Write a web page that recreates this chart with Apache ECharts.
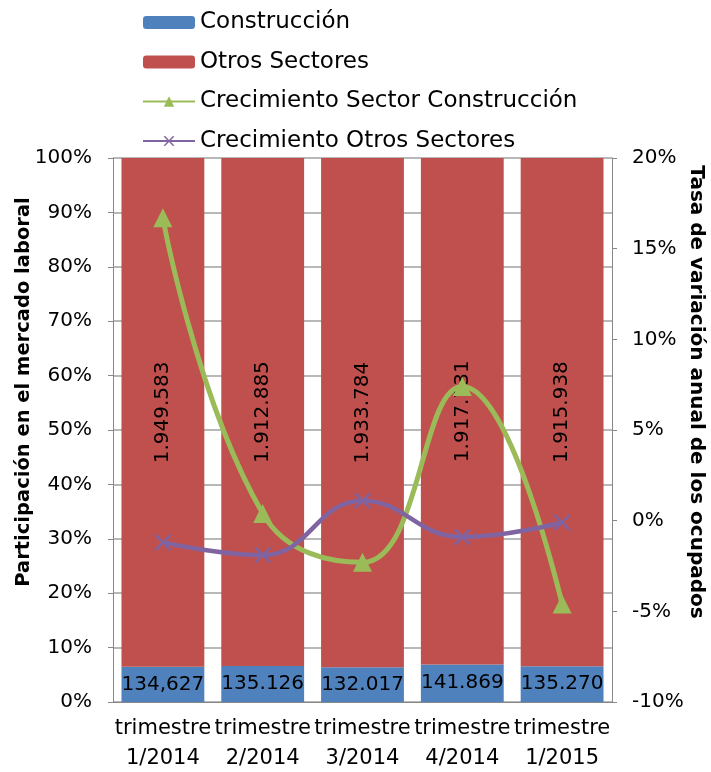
<!DOCTYPE html>
<html><head><meta charset="utf-8">
<script src="https://cdn.jsdelivr.net/npm/echarts@6/dist/echarts.min.js"></script>
<style>html,body{margin:0;padding:0;background:#fff}#c{width:711px;height:772px}</style>
</head><body><div id="c"></div>
<script>
const categories = ['trimestre\n1/2014','trimestre\n2/2014','trimestre\n3/2014','trimestre\n4/2014','trimestre\n1/2015'];
const construccion = [134627, 135126, 132017, 141869, 135270];
const construccionLabels = ['134,627','135.126','132.017','141.869','135.270'];
const otros = [1949583, 1912885, 1933784, 1917731, 1915938];
const otrosLabels = ['1.949.583','1.912.885','1.933.784','1.917.731','1.915.938'];
const crecConstruccion = [16.7, 0.4, -2.3, 7.4, -4.6];
const crecOtros = [-1.2, -1.9, 1.1, -0.9, -0.1];
const leftTicks = [0,10,20,30,40,50,60,70,80,90,100];
const rightTicks = [-10,-5,0,5,10,15,20];
const leftTitle = 'Participación en el mercado laboral';
const rightTitle = 'Tasa de variación anual de los ocupados';

const FONT = 'DejaVu Sans';
const totals = construccion.map((v,i)=>v+otros[i]);
const shareC = construccion.map((v,i)=>v/totals[i]*100);
const shareO = otros.map((v,i)=>v/totals[i]*100);
const cross = 'path://M1,0 L5,4 L9,0 L10,1 L6,5 L10,9 L9,10 L5,6 L1,10 L0,9 L4,5 L0,1 Z';

const chart = echarts.init(document.getElementById('c'));
chart.setOption({
  animation:false,
  textStyle:{fontFamily:FONT},
  legend:{
    orient:'vertical', left:137, top:6, itemWidth:52, itemHeight:13, itemGap:16.5,
    textStyle:{fontFamily:FONT,fontSize:23,color:'#000'},
    data:['Construcción','Otros Sectores','Crecimiento Sector Construcción','Crecimiento Otros Sectores']
  },
  graphic:[
    {type:'text', x:24, y:392, rotation:Math.PI/2,
     style:{text:leftTitle, font:'bold 19.5px "DejaVu Sans"', fill:'#000', align:'center', verticalAlign:'middle'}},
    {type:'text', x:696, y:392, rotation:-Math.PI/2,
     style:{text:rightTitle, font:'bold 20px "DejaVu Sans"', fill:'#000', align:'center', verticalAlign:'middle'}}
  ],
  grid:{left:113,right:99,top:158,bottom:70,outerBoundsMode:'none',containLabel:false},
  xAxis:{
    type:'category', data:categories,
    axisLine:{lineStyle:{color:'#888'}}, axisTick:{show:false},
    axisLabel:{fontFamily:FONT,fontSize:21,color:'#000',lineHeight:30,interval:0,margin:12}
  },
  yAxis:[{
    type:'value', min:leftTicks[0], max:leftTicks[leftTicks.length-1], interval:10,
    axisLine:{show:true,lineStyle:{color:'#888'}}, axisTick:{show:true,length:5,lineStyle:{color:'#888'}},
    axisLabel:{fontFamily:FONT,fontSize:20,color:'#000',formatter:'{value}%',margin:21},
    splitLine:{lineStyle:{color:'#a0a0a0',width:1.5}}
  },{
    type:'value', min:rightTicks[0], max:rightTicks[rightTicks.length-1], interval:5, position:'right',
    axisLine:{show:true,lineStyle:{color:'#888'}}, axisTick:{show:true,length:5,lineStyle:{color:'#888'}},
    axisLabel:{fontFamily:FONT,fontSize:20,color:'#000',formatter:'{value}%',margin:20},
    splitLine:{show:false}
  }],
  series:[
    {name:'Construcción', type:'bar', stack:'s', data:shareC, barCategoryGap:'17%',
     itemStyle:{color:'#4F81BD'},
     label:{show:true,position:'inside',fontFamily:FONT,fontSize:20,color:'#000',
       formatter:p=>construccionLabels[p.dataIndex]}},
    {name:'Otros Sectores', type:'bar', stack:'s', data:shareO,
     itemStyle:{color:'#C0504D'},
     label:{show:true,position:'inside',rotate:90,fontFamily:FONT,fontSize:20,color:'#000',
       formatter:p=>otrosLabels[p.dataIndex]}},
    {name:'Crecimiento Sector Construcción', type:'line', yAxisIndex:1, data:crecConstruccion,
     smooth:0.45, symbol:'triangle', symbolSize:19,
     lineStyle:{color:'#9BBB59',width:5}, itemStyle:{color:'#9BBB59'}},
    {name:'Crecimiento Otros Sectores', type:'line', yAxisIndex:1, data:crecOtros,
     smooth:0.45, symbol:cross, symbolSize:17,
     lineStyle:{color:'#8064A2',width:4.5}, itemStyle:{color:'#8064A2'}}
  ]
});
</script></body></html>
